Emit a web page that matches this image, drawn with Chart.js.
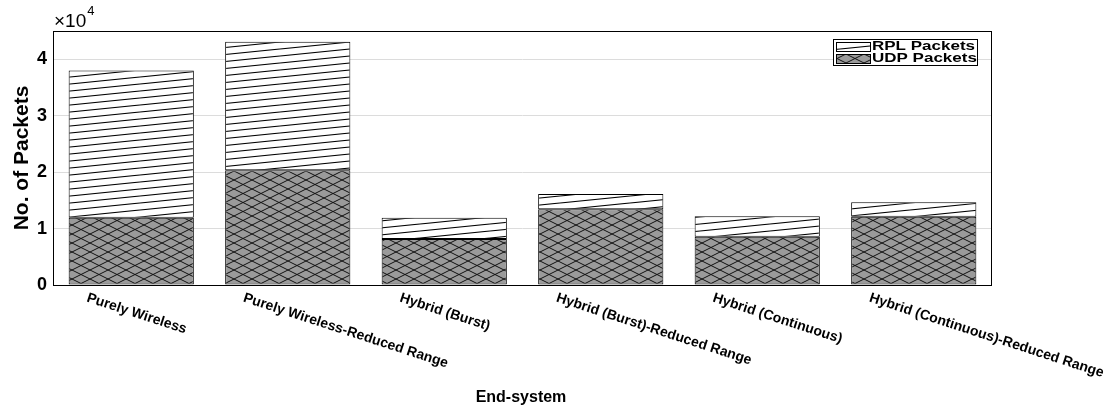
<!DOCTYPE html>
<html>
<head>
<meta charset="utf-8">
<title>Packets per end-system</title>
<script src="https://cdn.jsdelivr.net/npm/chart.js@4.4.1/dist/chart.umd.min.js"></script>
<style>
  html, body { margin: 0; padding: 0; background: #ffffff; }
  canvas { display: block; }
</style>
</head>
<body>
<canvas id="c" width="1113" height="412"></canvas>
<script>
// End-system configurations along the x axis
const categories = [
  'Purely Wireless',
  'Purely Wireless-Reduced Range',
  'Hybrid (Burst)',
  'Hybrid (Burst)-Reduced Range',
  'Hybrid (Continuous)',
  'Hybrid (Continuous)-Reduced Range'
];

// Packet counts per configuration (stacked: UDP at the bottom, RPL on top)
const udpPackets = [11900, 20350, 8150, 13400, 8550, 12100];
const rplPackets = [26100, 22750, 3750, 2700, 3650, 2550];

const seriesNames = ['UDP Packets', 'RPL Packets'];

// y axis: ticks in units of 10^4 packets
const yTickValues = [0, 1, 2, 3, 4];
const yExponent = 4;
const yMax = 4.5;

const FONT = "'Liberation Sans', Arial, Helvetica, sans-serif";
const scaleFactor = Math.pow(10, yExponent);

const canvas = document.getElementById('c');
const ctx0 = canvas.getContext('2d');

// Sparse diagonal hatch on white (RPL)
function makeHatch() {
  const t = document.createElement('canvas');
  t.width = 70; t.height = 7;
  const g = t.getContext('2d');
  g.fillStyle = '#ffffff';
  g.fillRect(0, 0, t.width, t.height);
  g.strokeStyle = '#000000';
  g.lineWidth = 1.1;
  for (const k of [-7, 0, 7]) {
    g.beginPath();
    g.moveTo(0, 7 + k);
    g.lineTo(70, k);
    g.stroke();
  }
  return ctx0.createPattern(t, 'repeat');
}

// Diamond cross-hatch on grey (UDP)
function makeCross() {
  const t = document.createElement('canvas');
  t.width = 18; t.height = 9;
  const g = t.getContext('2d');
  g.fillStyle = '#9a9a9a';
  g.fillRect(0, 0, t.width, t.height);
  g.strokeStyle = '#111111';
  g.lineWidth = 1;
  for (const k of [-9, 0, 9]) {
    g.beginPath();
    g.moveTo(0, k); g.lineTo(18, 9 + k);
    g.moveTo(0, 9 + k); g.lineTo(18, k);
    g.stroke();
  }
  return ctx0.createPattern(t, 'repeat');
}

const hatch = makeHatch();
const cross = makeCross();

// Frame, titles, rotated category labels and legend
const decorations = {
  id: 'decorations',
  afterDraw(chart) {
    const { ctx, chartArea: a, scales } = chart;
    ctx.save();

    // plot frame
    ctx.strokeStyle = '#000000';
    ctx.lineWidth = 1;
    ctx.strokeRect(Math.round(a.left) + 0.5, Math.round(a.top) + 0.5,
                   Math.round(a.right - a.left) - 1, Math.round(a.bottom - a.top));

    // exponent marker above the y axis
    ctx.fillStyle = '#000000';
    ctx.textBaseline = 'alphabetic';
    ctx.textAlign = 'left';
    ctx.font = '19px ' + FONT;
    ctx.fillText('\u00d710', a.left + 1, 27);
    const w = ctx.measureText('\u00d710').width;
    ctx.font = '13px ' + FONT;
    ctx.fillText(String(yExponent), a.left + 2 + w, 15);

    // y axis title
    ctx.save();
    ctx.translate(22, (a.top + a.bottom) / 2);
    ctx.rotate(-Math.PI / 2);
    ctx.textAlign = 'center';
    ctx.textBaseline = 'middle';
    ctx.font = 'bold 21px ' + FONT;
    ctx.fillText('No. of Packets', 0, 0);
    ctx.restore();

    // category labels, slanted down to the right
    const xs = scales.x;
    ctx.font = 'bold 14px ' + FONT;
    ctx.textAlign = 'left';
    ctx.textBaseline = 'top';
    categories.forEach((label, i) => {
      const px = xs.getPixelForValue(i);
      ctx.save();
      ctx.translate(px - 42, a.bottom + 6);
      ctx.rotate(18 * Math.PI / 180);
      ctx.fillText(label, 0, 0);
      ctx.restore();
    });

    // x axis title
    ctx.font = 'bold 16px ' + FONT;
    ctx.textAlign = 'center';
    ctx.textBaseline = 'middle';
    ctx.fillText('End-system', 521, 398);

    // legend box
    const lx = 833, ly = 39, lw = 144, lh = 26;
    ctx.fillStyle = '#ffffff';
    ctx.fillRect(lx, ly, lw, lh);
    ctx.strokeStyle = '#000000';
    ctx.lineWidth = 1;
    ctx.strokeRect(lx + 0.5, ly + 0.5, lw, lh);

    const entries = [
      { name: seriesNames[1], fill: hatch, y: 42 },
      { name: seriesNames[0], fill: cross, y: 54 }
    ];
    entries.forEach(e => {
      ctx.fillStyle = e.fill;
      ctx.fillRect(836, e.y, 34, 9);
      ctx.strokeStyle = '#000000';
      ctx.strokeRect(836.5, e.y + 0.5, 34, 9);
      ctx.save();
      ctx.fillStyle = '#000000';
      ctx.font = 'bold 12.5px ' + FONT;
      ctx.textAlign = 'left';
      ctx.textBaseline = 'middle';
      ctx.translate(872, e.y + 5);
      ctx.scale(1.36, 1);
      ctx.fillText(e.name, 0, 0);
      ctx.restore();
    });

    ctx.restore();
  }
};

new Chart(canvas, {
  type: 'bar',
  data: {
    labels: categories,
    datasets: [
      {
        label: seriesNames[0],
        data: udpPackets,
        backgroundColor: cross,
        borderColor: '#000000',
        borderWidth: 1,
        borderSkipped: false
      },
      {
        label: seriesNames[1],
        data: rplPackets,
        backgroundColor: hatch,
        borderColor: '#000000',
        borderWidth: 1,
        borderSkipped: false
      }
    ]
  },
  options: {
    responsive: false,
    animation: false,
    devicePixelRatio: 1,
    layout: { padding: { left: 0, top: 31, right: 121, bottom: 0 } },
    plugins: {
      legend: { display: false },
      tooltip: { enabled: false }
    },
    datasets: {
      bar: { categoryPercentage: 0.8, barPercentage: 1.0 }
    },
    scales: {
      x: {
        stacked: true,
        grid: { display: false, drawTicks: false },
        border: { display: false },
        ticks: { display: false },
        afterFit(scale) { scale.height = 127; }
      },
      y: {
        stacked: true,
        min: 0,
        max: yMax * scaleFactor,
        grid: { color: '#dcdcdc', lineWidth: 1, drawTicks: false },
        border: { display: false },
        ticks: {
          padding: 6,
          color: '#000000',
          font: { family: FONT, size: 18, weight: 'bold' },
          callback: v => String(v / scaleFactor)
        },
        afterBuildTicks(scale) {
          scale.ticks = yTickValues.map(v => ({ value: v * scaleFactor }));
        },
        afterFit(scale) { scale.width = 53; }
      }
    }
  },
  plugins: [decorations]
});
</script>
</body>
</html>
